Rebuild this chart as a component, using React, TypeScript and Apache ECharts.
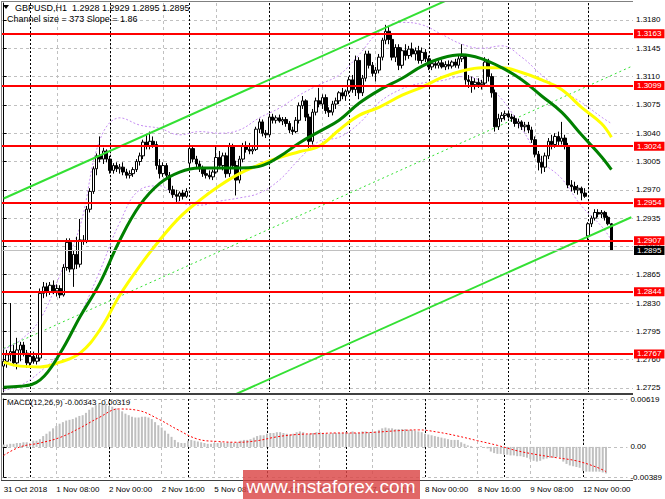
import React, { useEffect, useRef } from 'react';
import * as echarts from 'echarts';

// ---------- data ----------
const xLabels = ['31 Oct 2018', '1 Nov 08:00', '2 Nov 00:00', '2 Nov 16:00', '5 Nov 08:00', '6 Nov 00:00', '6 Nov 16:00', '7 Nov 08:00', '8 Nov 00:00', '8 Nov 16:00', '9 Nov 08:00', '12 Nov 00:00'];
const slotCount = 190; // 184 bars + right shift
const gridIdx = [0, 16, 32, 48, 64, 80, 96, 112, 128, 144, 160, 176];
const dayIdx = [8, 32, 56, 80, 104, 128, 152, 176];

// [open, high, low, close]
const candles: number[][] = [
  [1.2752, 1.2762, 1.2731, 1.2758], [1.2758, 1.2772, 1.2750, 1.2766], [1.2766, 1.2830, 1.2758, 1.2770], [1.2770, 1.2778, 1.2752, 1.2756],
  [1.2756, 1.2787, 1.2748, 1.2772], [1.2772, 1.2782, 1.2758, 1.2778], [1.2778, 1.2782, 1.2764, 1.2768], [1.2768, 1.2772, 1.2750, 1.2756],
  [1.2756, 1.2768, 1.2752, 1.2764], [1.2764, 1.2770, 1.2755, 1.2758], [1.2758, 1.2768, 1.2754, 1.2762], [1.2762, 1.2848, 1.2758, 1.2842],
  [1.2842, 1.2856, 1.2836, 1.2850], [1.2850, 1.2855, 1.2838, 1.2843], [1.2843, 1.2856, 1.2840, 1.2852], [1.2852, 1.2858, 1.2841, 1.2845],
  [1.2845, 1.2853, 1.2838, 1.2848], [1.2848, 1.2852, 1.2836, 1.2840], [1.2840, 1.2878, 1.2838, 1.2874], [1.2874, 1.2910, 1.2870, 1.2905],
  [1.2905, 1.2910, 1.2868, 1.2872], [1.2872, 1.2895, 1.2850, 1.2890], [1.2890, 1.2912, 1.2872, 1.2878], [1.2878, 1.2934, 1.2874, 1.2908],
  [1.2908, 1.2914, 1.2902, 1.2906], [1.2906, 1.2950, 1.2904, 1.2946], [1.2946, 1.2972, 1.2942, 1.2968], [1.2968, 1.2999, 1.2965, 1.2996],
  [1.2996, 1.3015, 1.2988, 1.3012], [1.3012, 1.3036, 1.3004, 1.3008], [1.3008, 1.3022, 1.3002, 1.3018], [1.3018, 1.3020, 1.3004, 1.3008],
  [1.3008, 1.3012, 1.2990, 1.2994], [1.2994, 1.3003, 1.2990, 1.3000], [1.3000, 1.3004, 1.2992, 1.2996], [1.2996, 1.3002, 1.2990, 1.2998],
  [1.2998, 1.3004, 1.2988, 1.2992], [1.2992, 1.2996, 1.2984, 1.2988], [1.2988, 1.2994, 1.2984, 1.2990], [1.2990, 1.2998, 1.2986, 1.2995],
  [1.2995, 1.3008, 1.2992, 1.3005], [1.3005, 1.3016, 1.3000, 1.3012], [1.3012, 1.3032, 1.3008, 1.3029], [1.3029, 1.3038, 1.3020, 1.3024],
  [1.3024, 1.3042, 1.3020, 1.3030], [1.3030, 1.3036, 1.3022, 1.3026], [1.3026, 1.3030, 1.2995, 1.3000], [1.3000, 1.3008, 1.2984, 1.2990],
  [1.2990, 1.3004, 1.2986, 1.3000], [1.3000, 1.3003, 1.2984, 1.2988], [1.2988, 1.2992, 1.2966, 1.2970], [1.2970, 1.2975, 1.2960, 1.2964],
  [1.2964, 1.2970, 1.2955, 1.2962], [1.2962, 1.2968, 1.2956, 1.2966], [1.2966, 1.2970, 1.2958, 1.2962], [1.2962, 1.2972, 1.2960, 1.2968],
  [1.3003, 1.3026, 1.2998, 1.3021], [1.3021, 1.3024, 1.3004, 1.3008], [1.3008, 1.3012, 1.2998, 1.3002], [1.3002, 1.3006, 1.2992, 1.2996],
  [1.2996, 1.3000, 1.2986, 1.2990], [1.2990, 1.2996, 1.2984, 1.2988], [1.2988, 1.2994, 1.2983, 1.2986], [1.2986, 1.2995, 1.2982, 1.2992],
  [1.2992, 1.3024, 1.2990, 1.3010], [1.3010, 1.3018, 1.2996, 1.3000], [1.3000, 1.3016, 1.2994, 1.3012], [1.3012, 1.3016, 1.2985, 1.2990],
  [1.2990, 1.3028, 1.2986, 1.3024], [1.3024, 1.3027, 1.2996, 1.3000], [1.3000, 1.3006, 1.2963, 1.2982], [1.2982, 1.3012, 1.2978, 1.3008],
  [1.3008, 1.3028, 1.3004, 1.3024], [1.3024, 1.3030, 1.3016, 1.3020], [1.3020, 1.3028, 1.3014, 1.3018], [1.3018, 1.3024, 1.3014, 1.3020],
  [1.3020, 1.3048, 1.3018, 1.3045], [1.3045, 1.3058, 1.3040, 1.3054], [1.3054, 1.3057, 1.3036, 1.3040], [1.3040, 1.3044, 1.3034, 1.3038],
  [1.3038, 1.3064, 1.3035, 1.3060], [1.3060, 1.3064, 1.3052, 1.3056], [1.3056, 1.3062, 1.3052, 1.3059], [1.3059, 1.3063, 1.3053, 1.3055],
  [1.3055, 1.3060, 1.3050, 1.3057], [1.3057, 1.3060, 1.3048, 1.3052], [1.3052, 1.3055, 1.3040, 1.3044], [1.3044, 1.3048, 1.3038, 1.3042],
  [1.3042, 1.3060, 1.3040, 1.3056], [1.3056, 1.3078, 1.3052, 1.3074], [1.3074, 1.3086, 1.3070, 1.3080], [1.3080, 1.3082, 1.3055, 1.3060],
  [1.3060, 1.3064, 1.3022, 1.3030], [1.3030, 1.3070, 1.3026, 1.3066], [1.3066, 1.3084, 1.3062, 1.3080], [1.3080, 1.3096, 1.3072, 1.3076],
  [1.3076, 1.3088, 1.3070, 1.3084], [1.3084, 1.3088, 1.3064, 1.3068], [1.3068, 1.3072, 1.3060, 1.3066], [1.3066, 1.3080, 1.3062, 1.3076],
  [1.3076, 1.3084, 1.3070, 1.3080], [1.3080, 1.3092, 1.3076, 1.3090], [1.3090, 1.3096, 1.3082, 1.3086], [1.3086, 1.3094, 1.3080, 1.3092],
  [1.3092, 1.3110, 1.3088, 1.3106], [1.3106, 1.3112, 1.3090, 1.3094], [1.3094, 1.3136, 1.3086, 1.3130], [1.3130, 1.3134, 1.3082, 1.3090],
  [1.3090, 1.3112, 1.3086, 1.3108], [1.3108, 1.3142, 1.3104, 1.3138], [1.3138, 1.3142, 1.3120, 1.3124], [1.3124, 1.3128, 1.3110, 1.3114],
  [1.3114, 1.3122, 1.3104, 1.3118], [1.3118, 1.3138, 1.3114, 1.3134], [1.3134, 1.3158, 1.3130, 1.3155], [1.3155, 1.3174, 1.3150, 1.3166],
  [1.3166, 1.3172, 1.3150, 1.3156], [1.3156, 1.3162, 1.3130, 1.3134], [1.3134, 1.3150, 1.3128, 1.3146], [1.3146, 1.3150, 1.3118, 1.3124],
  [1.3124, 1.3146, 1.3120, 1.3142], [1.3142, 1.3150, 1.3130, 1.3136], [1.3136, 1.3148, 1.3132, 1.3144], [1.3144, 1.3152, 1.3134, 1.3138],
  [1.3138, 1.3146, 1.3130, 1.3142], [1.3142, 1.3148, 1.3126, 1.3130], [1.3130, 1.3146, 1.3126, 1.3140], [1.3140, 1.3144, 1.3128, 1.3132],
  [1.3132, 1.3136, 1.3118, 1.3122], [1.3122, 1.3130, 1.3118, 1.3126], [1.3126, 1.3130, 1.3120, 1.3124], [1.3124, 1.3130, 1.3120, 1.3127],
  [1.3127, 1.3131, 1.3120, 1.3122], [1.3122, 1.3129, 1.3118, 1.3125], [1.3125, 1.3130, 1.3119, 1.3123], [1.3123, 1.3130, 1.3120, 1.3128],
  [1.3128, 1.3132, 1.3121, 1.3124], [1.3124, 1.3136, 1.3120, 1.3132], [1.3132, 1.3150, 1.3128, 1.3135], [1.3135, 1.3138, 1.3100, 1.3106],
  [1.3106, 1.3112, 1.3096, 1.3104], [1.3104, 1.3110, 1.3090, 1.3100], [1.3100, 1.3108, 1.3094, 1.3103], [1.3103, 1.3108, 1.3096, 1.3100],
  [1.3100, 1.3106, 1.3094, 1.3102], [1.3102, 1.3134, 1.3098, 1.3128], [1.3128, 1.3132, 1.3104, 1.3110], [1.3110, 1.3114, 1.3084, 1.3090],
  [1.3090, 1.3094, 1.3042, 1.3048], [1.3048, 1.3064, 1.3044, 1.3058], [1.3058, 1.3066, 1.3054, 1.3062], [1.3062, 1.3068, 1.3056, 1.3064],
  [1.3064, 1.3068, 1.3058, 1.3060], [1.3060, 1.3064, 1.3054, 1.3058], [1.3058, 1.3062, 1.3048, 1.3052], [1.3052, 1.3058, 1.3046, 1.3054],
  [1.3054, 1.3056, 1.3044, 1.3048], [1.3048, 1.3054, 1.3042, 1.3050], [1.3050, 1.3054, 1.3040, 1.3044], [1.3044, 1.3048, 1.3028, 1.3032],
  [1.3032, 1.3036, 1.3010, 1.3014], [1.3014, 1.3018, 1.2994, 1.3004], [1.3004, 1.3012, 1.2990, 1.2998], [1.2998, 1.3016, 1.2992, 1.3012],
  [1.3012, 1.3034, 1.3008, 1.3030], [1.3030, 1.3038, 1.3020, 1.3026], [1.3026, 1.3040, 1.3022, 1.3036], [1.3036, 1.3042, 1.3024, 1.3030],
  [1.3030, 1.3054, 1.3026, 1.3034], [1.3034, 1.3038, 1.3020, 1.3024], [1.3024, 1.3028, 1.2972, 1.2976], [1.2976, 1.2982, 1.2968, 1.2974],
  [1.2974, 1.2980, 1.2966, 1.2970], [1.2970, 1.2976, 1.2964, 1.2972], [1.2972, 1.2974, 1.2957, 1.2966], [1.2966, 1.2972, 1.2960, 1.2962],
  [1.2913, 1.2930, 1.2908, 1.2928], [1.2928, 1.2938, 1.2924, 1.2935], [1.2935, 1.2946, 1.2932, 1.2942], [1.2942, 1.2946, 1.2936, 1.2940],
  [1.2940, 1.2945, 1.2935, 1.2942], [1.2942, 1.2944, 1.2932, 1.2936], [1.2936, 1.2938, 1.2926, 1.2928], [1.2928, 1.2929, 1.2895, 1.2895],
];

const levels = [1.3163, 1.3099, 1.3024, 1.2954, 1.2907, 1.2844, 1.2767];
const lastPrice = 1.2895;
const priceTicks = [1.2725, 1.2760, 1.2795, 1.2830, 1.2865, 1.2900, 1.2935, 1.2970, 1.3005, 1.3040, 1.3075, 1.3110, 1.3145, 1.3180];

// indicator readings at sampled bars
const sampleIdx = [0, 5, 11, 17, 23, 29, 35, 41, 47, 53, 59, 65, 71, 77, 83, 89, 95, 101, 107, 113, 120, 126, 132, 138, 144, 150, 156, 162, 168, 174, 180, 183];
const maGreen = [1.2726, 1.2727, 1.2735, 1.2768, 1.2813, 1.2855, 1.2908, 1.2951, 1.2978, 1.2992, 1.2997, 1.2997, 1.2997, 1.2999, 1.3011, 1.3028, 1.3042, 1.3056, 1.3077, 1.3093, 1.3108, 1.3123, 1.3133, 1.3137, 1.3132, 1.3121, 1.3106, 1.3086, 1.3066, 1.3038, 1.3011, 1.2995];
const maYellow = [1.2757, 1.2752, 1.2751, 1.2757, 1.2768, 1.2797, 1.2840, 1.2876, 1.2908, 1.2936, 1.2957, 1.2975, 1.2990, 1.3001, 1.3010, 1.3017, 1.3024, 1.3044, 1.3062, 1.3072, 1.3087, 1.3097, 1.3109, 1.3117, 1.3121, 1.3121, 1.3115, 1.3106, 1.3094, 1.3072, 1.3052, 1.3035];
const bandUpper = [1.2773, 1.2784, 1.2810, 1.2865, 1.2925, 1.3032, 1.3059, 1.3050, 1.3046, 1.3038, 1.3042, 1.3040, 1.3044, 1.3059, 1.3071, 1.3087, 1.3100, 1.3112, 1.3137, 1.3165, 1.3177, 1.3174, 1.3162, 1.3150, 1.3145, 1.3148, 1.3134, 1.3112, 1.3093, 1.3078, 1.3060, 1.3052];
const bandLower = [1.2722, 1.2728, 1.2745, 1.2770, 1.2815, 1.2870, 1.2930, 1.2970, 1.2975, 1.2955, 1.2951, 1.2956, 1.2960, 1.2966, 1.2982, 1.3008, 1.3030, 1.3035, 1.3052, 1.3078, 1.3095, 1.3102, 1.3105, 1.3110, 1.3104, 1.3082, 1.3046, 1.3006, 1.2984, 1.2950, 1.2925, 1.2908];

const channelIdx = [0, 189];
const channelUpper = [1.29593, 1.33064];
const channelMid = [1.27738, 1.31225];
const channelLower = [1.25890, 1.29361];

const macdHist = [
  0.0003, 0.0003, 0.0004, 0.0004, 0.0005, 0.0005, 0.0006, 0.0006,
  0.0005, 0.0008, 0.0008, 0.0010, 0.0014, 0.0017, 0.0020, 0.0024,
  0.0027, 0.0030, 0.0032, 0.0034, 0.0035, 0.0036, 0.0038, 0.0040,
  0.0041, 0.0044, 0.0048, 0.0051, 0.0054, 0.0056, 0.0056, 0.0055,
  0.0053, 0.0052, 0.0050, 0.0048, 0.0046, 0.0043, 0.0041, 0.0039,
  0.0038, 0.0038, 0.0039, 0.0039, 0.0038, 0.0036, 0.0032, 0.0028,
  0.0025, 0.0021, 0.0017, 0.0013, 0.0009, 0.0006, 0.0005, 0.0005,
  0.0008, 0.0009, 0.0008, 0.0007, 0.0006, 0.0005, 0.0004, 0.0004,
  0.0005, 0.0005, 0.0006, 0.0005, 0.0006, 0.0006, 0.0005, 0.0006,
  0.0008, 0.0009, 0.0009, 0.0010, 0.0012, 0.0014, 0.0015, 0.0015,
  0.0017, 0.0018, 0.0018, 0.0019, 0.0019, 0.0018, 0.0017, 0.0016,
  0.0017, 0.0019, 0.0020, 0.0019, 0.0016, 0.0017, 0.0018, 0.0019,
  0.0019, 0.0018, 0.0017, 0.0017, 0.0018, 0.0018, 0.0018, 0.0018,
  0.0019, 0.0018, 0.0020, 0.0018, 0.0018, 0.0020, 0.0020, 0.0019,
  0.0019, 0.0020, 0.0022, 0.0024, 0.0025, 0.0024, 0.0024, 0.0023,
  0.0023, 0.0023, 0.0023, 0.0022, 0.0022, 0.0021, 0.0020, 0.0019,
  0.0017, 0.0016, 0.0015, 0.0014, 0.0013, 0.0012, 0.0011, 0.0010,
  0.0009, 0.0009, 0.0009, 0.0006, 0.0004, 0.0002, 0.0001, 0.0000,
  -0.0001, 0.0001, 0.0000, -0.0002, -0.0006, -0.0008, -0.0009, -0.0009,
  -0.0010, -0.0010, -0.0011, -0.0011, -0.0012, -0.0012, -0.0013, -0.0014,
  -0.0016, -0.0018, -0.0019, -0.0018, -0.0016, -0.0015, -0.0014, -0.0014,
  -0.0013, -0.0014, -0.0019, -0.0022, -0.0024, -0.0025, -0.0026, -0.0027,
  -0.0031, -0.0032, -0.0032, -0.0032, -0.0032, -0.0032, -0.0033, -0.00343,
];
const macdSignal = [-0.0011, 0.0000, 0.0005, 0.0012, 0.0024, 0.0038, 0.0049, 0.0047, 0.0036, 0.0022, 0.0010, 0.0007, 0.0006, 0.0008, 0.0013, 0.0016, 0.0017, 0.0018, 0.0018, 0.0019, 0.0021, 0.0022, 0.0019, 0.0014, 0.0008, 0.0002, -0.0005, -0.0010, -0.0014, -0.0018, -0.0026, -0.00319];
const macdTicks = [-0.00389, 0, 0.00619];

// ---------- helpers ----------
const FONT = '"Liberation Sans", Arial, sans-serif';
const categories = Array.from({ length: slotCount }, (_, i) => String(i));
function sparse(idx: number[], vals: number[]) {
  const a: (number | null)[] = new Array(slotCount).fill(null);
  idx.forEach((k, j) => { a[k] = vals[j]; });
  return a;
}

function levelLine(v: number, color: string, width: number, labelBg: string) {
  return {
    type: 'line', xAxisIndex: 0, yAxisIndex: 0, data: [], silent: true, z: 4,
    markLine: {
      silent: true, symbol: ['none', 'none'], animation: false, precision: 6,
      lineStyle: { color, width, type: 'solid' },
      label: { show: true, position: 'end', distance: 1, formatter: () => v.toFixed(4), color: '#fff', backgroundColor: labelBg, padding: [1, 3, 0, 3], fontSize: 8, fontFamily: FONT },
      data: [{ yAxis: v }],
    },
  };
}

function buildOption(): any {
  const candleData = candles.map(([o, h, l, c]) => [o, c, l, h]);
  const lineBase = { type: 'line', xAxisIndex: 0, yAxisIndex: 0, showSymbol: false, symbol: 'none', connectNulls: true, silent: true, clip: true };
  const gridAxis = (gridIndex: number, vals: number[], color: string, dash: number[]) => ({
    type: 'value', gridIndex, min: -0.5, max: slotCount - 0.5,
    axisLine: { show: false }, axisLabel: { show: false },
    axisTick: { show: false, customValues: vals },
    splitLine: { show: true, lineStyle: { color, width: 1, type: dash } },
  });
  return {
    animation: false,
    backgroundColor: '#ffffff',
    textStyle: { fontFamily: FONT },
    grid: [
      { left: 2, right: 32, top: 3, height: 389 },
      { left: 2, right: 32, top: 399, height: 78 },
    ],
    xAxis: [
      { type: 'category', gridIndex: 0, data: categories, boundaryGap: true, axisLine: { show: false }, axisTick: { show: false }, axisLabel: { show: false }, splitLine: { show: false } },
      {
        type: 'category', gridIndex: 1, data: categories, boundaryGap: true, offset: 3,
        axisLine: { show: false }, axisTick: { show: false }, splitLine: { show: false },
        axisLabel: { interval: 15, align: 'left', fontSize: 8, color: '#000', margin: 5, fontFamily: FONT, formatter: (_v: string, i: number) => xLabels[i / 16] ?? '' },
      },
      gridAxis(0, gridIdx, '#c0c0c0', [3, 3]),
      gridAxis(0, dayIdx, '#000000', [2, 2]),
      gridAxis(1, gridIdx, '#c0c0c0', [3, 3]),
      gridAxis(1, dayIdx, '#000000', [2, 2]),
    ],
    yAxis: [
      {
        type: 'value', gridIndex: 0, position: 'right', min: 1.2720, max: 1.3201, scale: true,
        axisLine: { show: true, lineStyle: { color: '#000' } },
        axisTick: { show: true, length: 3, customValues: priceTicks, lineStyle: { color: '#000' } },
        axisLabel: { customValues: priceTicks, fontSize: 8, color: '#000', margin: 3, fontFamily: FONT, formatter: (v: number) => v.toFixed(4) },
        splitLine: { show: true, lineStyle: { color: '#c0c0c0', type: [3, 3] } },
      },
      {
        type: 'value', gridIndex: 1, position: 'right', min: -0.00389, max: 0.00619,
        axisLine: { show: true, lineStyle: { color: '#000' } },
        axisTick: { show: true, length: 3, customValues: macdTicks, lineStyle: { color: '#000' } },
        axisLabel: { customValues: macdTicks, fontSize: 8, color: '#000', margin: 3, fontFamily: FONT, formatter: (v: number) => (v === 0 ? '0.00' : v.toFixed(5)) },
        splitLine: { show: true, lineStyle: { color: '#c0c0c0', type: [3, 3] } },
      },
    ],
    series: [
      { ...lineBase, name: 'chanMid', data: sparse(channelIdx, channelMid), lineStyle: { color: '#33e033', width: 1, type: [2, 3] }, z: 1 },
      { ...lineBase, name: 'bandU', data: sparse(sampleIdx, bandUpper), smooth: 0.4, lineStyle: { color: '#c58cf2', width: 1, type: [2, 2] }, z: 1 },
      { ...lineBase, name: 'bandL', data: sparse(sampleIdx, bandLower), smooth: 0.4, lineStyle: { color: '#c58cf2', width: 1, type: [2, 2] }, z: 1 },
      levelLine(lastPrice, '#c0c0c0', 1, '#000000'),
      {
        type: 'candlestick', name: 'GBPUSD', xAxisIndex: 0, yAxisIndex: 0, data: candleData, barWidth: 3, silent: true, z: 2,
        itemStyle: { color: '#ffffff', color0: '#000000', borderColor: '#000000', borderColor0: '#000000', borderWidth: 1 },
      },
      { ...lineBase, name: 'chanUp', data: sparse(channelIdx, channelUpper), lineStyle: { color: '#33e033', width: 2 }, z: 3 },
      { ...lineBase, name: 'chanLow', data: sparse(channelIdx, channelLower), lineStyle: { color: '#33e033', width: 2 }, z: 3 },
      { ...lineBase, name: 'maSlow', data: sparse(sampleIdx, maYellow), smooth: 0.4, lineStyle: { color: '#ffff00', width: 3 }, z: 3 },
      { ...lineBase, name: 'maFast', data: sparse(sampleIdx, maGreen), smooth: 0.4, lineStyle: { color: '#008000', width: 3 }, z: 3 },
      ...levels.map((v) => levelLine(v, '#ff0000', 2, '#ff0000')),
      { type: 'bar', name: 'MACD', xAxisIndex: 1, yAxisIndex: 1, data: macdHist, barWidth: 2, itemStyle: { color: '#c0c0c0' }, silent: true },
      { type: 'line', name: 'Signal', xAxisIndex: 1, yAxisIndex: 1, data: sparse(sampleIdx, macdSignal), smooth: 0.4, connectNulls: true, showSymbol: false, symbol: 'none', silent: true, lineStyle: { color: '#ff0000', width: 1, type: [2, 2] } },
    ],
    graphic: [
      { type: 'line', silent: true, shape: { x1: 1.5, y1: 1, x2: 1.5, y2: 480 }, style: { stroke: '#808080', lineWidth: 1 }, z: 50 },
      { type: 'line', silent: true, shape: { x1: 1, y1: 1.5, x2: 633, y2: 1.5 }, style: { stroke: '#808080', lineWidth: 1 }, z: 50 },
      { type: 'line', silent: true, shape: { x1: 1, y1: 480.5, x2: 633, y2: 480.5 }, style: { stroke: '#404040', lineWidth: 1 }, z: 50 },
      { type: 'line', silent: true, shape: { x1: 1, y1: 394, x2: 633, y2: 394 }, style: { stroke: '#404040', lineWidth: 2 }, z: 50 },
      { type: 'polygon', silent: true, shape: { points: [[3, 5], [9, 5], [6, 9]] }, style: { fill: '#000' }, z: 60 },
      { type: 'text', silent: true, x: 15, y: 8, style: { text: 'GBPUSD,H1  1.2928 1.2929 1.2895 1.2895', font: `9px ${FONT}`, fill: '#000', verticalAlign: 'middle' }, z: 60 },
      { type: 'text', silent: true, x: 7, y: 19, style: { text: 'Channel size = 373 Slope = 1.86', font: `9px ${FONT}`, fill: '#000', verticalAlign: 'middle' }, z: 60 },
      { type: 'text', silent: true, x: 7, y: 402, style: { text: 'MACD(12,26,9) -0.00343 -0.00319', font: `8px ${FONT}`, fill: '#000', verticalAlign: 'middle' }, z: 60 },
      { type: 'rect', silent: true, shape: { x: 243, y: 470, width: 177, height: 29 }, style: { fill: 'rgba(218,70,70,0.82)' }, z: 100 },
      { type: 'text', silent: true, x: 331, y: 486, style: { text: 'www.instaforex.com', font: `19px "Liberation Sans Narrow", "Arial Narrow", ${FONT}`, fill: '#ffffff', align: 'center', verticalAlign: 'middle' }, z: 101 },
    ],
  };
}

export default function App() {
  const ref = useRef<HTMLDivElement>(null);
  useEffect(() => {
    if (!ref.current) return;
    const chart = echarts.init(ref.current, undefined, { renderer: 'svg' });
    chart.setOption(buildOption());
    return () => chart.dispose();
  }, []);
  return <div ref={ref} style={{ position: 'fixed', left: 0, top: 0, width: 665, height: 499, background: '#fff' }} />;
}
